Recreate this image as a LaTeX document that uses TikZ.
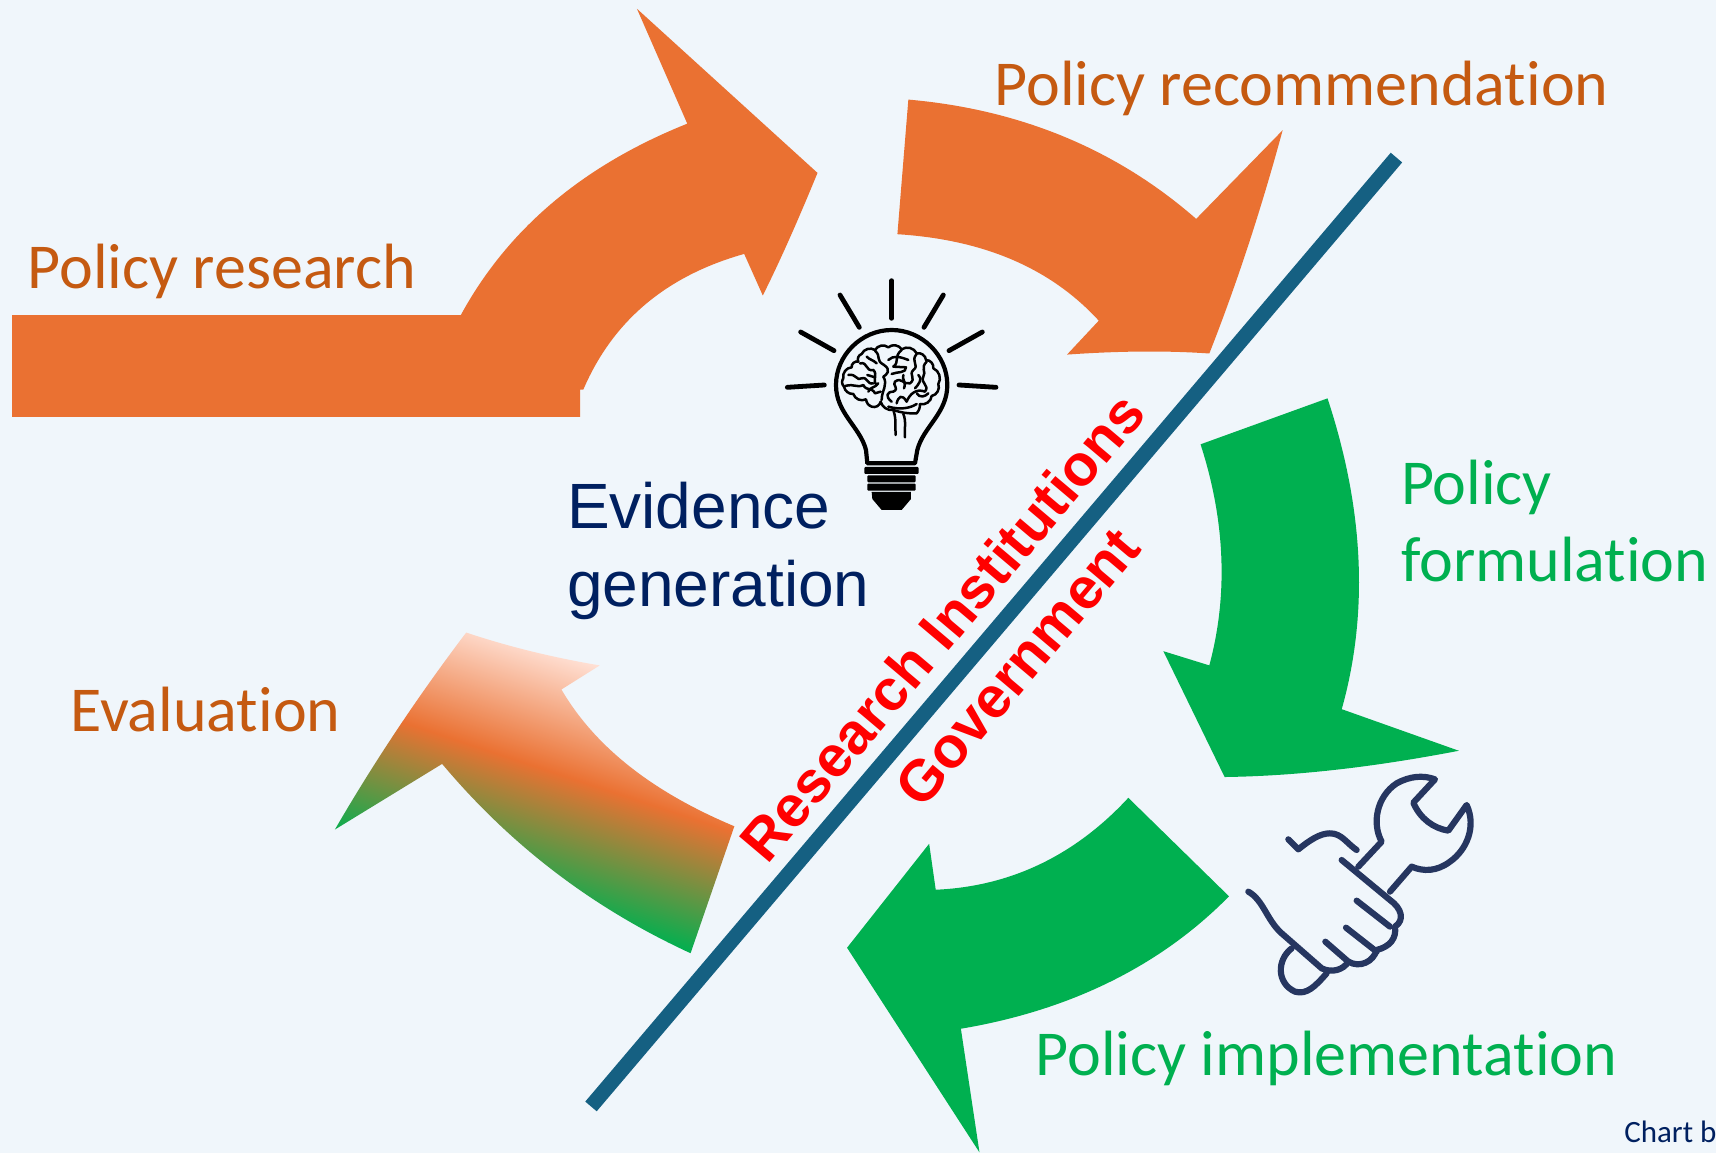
\documentclass[tikz,border=0pt]{standalone}
\usepackage{fontspec}
\setmainfont{Liberation Sans}
\newfontfamily\calfont[Ligatures=NoCommon]{Carlito}
\definecolor{bgc}{RGB}{240,246,251}
\definecolor{orangeA}{RGB}{234,113,50}
\definecolor{greenA}{RGB}{0,176,80}
\definecolor{orangeT}{RGB}{197,90,17}
\definecolor{navyT}{RGB}{0,32,96}
\definecolor{lineB}{RGB}{21,96,130}
\definecolor{pinkA}{RGB}{255,224,212}
\definecolor{toolC}{RGB}{38,54,96}
\pgfdeclareverticalshading{evalgrad}{100bp}{color(0bp)=(greenA); color(37.75bp)=(greenA); color(50.7bp)=(orangeA); color(62.25bp)=(pinkA); color(100bp)=(pinkA)}
\tikzset{
  lab/.style={inner sep=0pt,anchor=base west,font=\calfont\fontsize{64}{68}\selectfont},
  evi/.style={inner sep=0pt,anchor=base west,text=navyT,font=\fontsize{64}{70}\selectfont},
  redt/.style={inner sep=0pt,rotate=49.8,text=red,font=\bfseries\fontsize{58}{62}\selectfont},
  rayline/.style={line width=4.8pt,line cap=round,black},
  tool/.style={line width=6.2pt,line cap=round,line join=round,toolC},
  brainl/.style={line width=2.5pt,line cap=round,line join=round,black},
}
\begin{document}
\begin{tikzpicture}[x=1.09439pt,y=-1.09439pt]
\useasboundingbox (0,0) rectangle (1568,1053.55);
\fill[bgc] (0,0) rectangle (1568,1053.55);
% arrows
\fill[orangeA] (11,288) -- (421,288) .. controls (464,209) and (533,151) .. (628,113) -- (582,8) -- (747,158) .. controls (733,192) and (716,232) .. (697,270) -- (680,232) .. controls (609,252) and (560,293) .. (533,356) -- (530,356) -- (530,381) -- (11,381) -- cycle;
\fill[orangeA] (830,91) .. controls (933,100) and (1021,137) .. (1093,200) -- (1172,119) .. controls (1153,189) and (1131,257) .. (1105,323) .. controls (1062,320) and (1018,321) .. (975,324) -- (1004,293) .. controls (960,245) and (899,219) .. (820,214) -- cycle;
\fill[greenA] (1097,406) -- (1213,364) .. controls (1246,464) and (1251,559) .. (1226,648) -- (1333,686) .. controls (1260,700) and (1189,709) .. (1119,710) -- (1063,595) -- (1105,608) .. controls (1122,545) and (1120,477) .. (1097,406) -- cycle;
\fill[greenA] (1031,729) -- (1123,819) .. controls (1061,882) and (979,923) .. (878,940) -- (895,1053) -- (774,866) -- (849,771) -- (855,813) .. controls (923,810) and (982,782) .. (1031,729) -- cycle;
\begin{scope}
\clip (671,755) -- (631,871) .. controls (542,830) and (467,773) .. (404,698) -- (306,758) .. controls (342,696) and (382,636) .. (426,578) .. controls (465,591) and (506,601) .. (548,608) -- (513,630) .. controls (544,683) and (597,724) .. (671,755) -- cycle;
\shade[shading=evalgrad,shading angle=-18.4] (258.6,477.6) rectangle (715.4,934.4);
\end{scope}
% divider
\coordinate (dA) at (540,1011);
\coordinate (dB) at (1276,144);
\draw[lineB,line width=15pt] (dA) -- (dB);
% labels
\node[lab,text=orangeT] (t1) at (25,264) {Policy research};
\node[lab,text=orangeT] (t2) at (908.5,96) {Policy recommendation};
\node[lab,text=greenA] (t3) at (1280,461) {Policy};
\node[lab,text=greenA] (t4) at (1280,531) {formulation};
\node[lab,text=greenA] (t5) at (946,983) {Policy implementation};
\node[lab,text=orangeT] (t6) at (64,668) {Evaluation};
\node[evi] (t7) at (518,483) {Evidence};
\node[evi] (t8) at (518,554) {generation};
\node[inner sep=0pt,anchor=base west,text=navyT,font=\calfont\fontsize{31}{34}\selectfont] (t9) at (1484,1044) {Chart b};
\node[redt] (t10) at (861,572.5) {Research Institutions};
\node[redt] (t11) at (930,609.5) {Government};
% bulb (coordinates of a 3x grid)
\begin{scope}[x=0.3333pt,y=-0.3333pt,shift={(760pt,-260pt)}]
\draw[rayline] (395,62) -- (395,175);
\draw[rayline] (240,105) -- (298,202);
\draw[rayline] (550,105) -- (492,202);
\draw[rayline] (122,216) -- (222,272);
\draw[rayline] (667,216) -- (567,272);
\draw[rayline] (82,382) -- (193,375);
\draw[rayline] (708,382) -- (597,375);
\draw[black,line width=4.2pt,line join=round] (322,610) -- (318,570) .. controls (300,500) and (228,460) .. (228,375) .. controls (228,285) and (305,210) .. (395,210) .. controls (485,210) and (562,285) .. (562,375) .. controls (562,460) and (490,500) .. (472,570) -- (465,610) -- cycle;
\fill[black,rounded corners=1pt] (313,621) rectangle (476,642);
\fill[black,rounded corners=1pt] (322,646) rectangle (467,667);
\fill[black,rounded corners=1pt] (322,671) rectangle (467,692);
\fill[black] (335,696) -- (453,696) -- (453,717) -- (425,750) -- (365,750) -- (337,717) -- cycle;
% brain
\draw[brainl] (250,355) to[bend left=50] (275,322) to[bend left=60] (295,305) to[bend left=50] (305,282) to[bend left=50] (345,270) to[bend left=50] (385,262) to[bend left=50] (425,268) to[bend left=50] (470,280) to[bend left=50] (498,300) to[bend left=50] (520,325) to[bend left=50] (535,372) to[bend left=50] (515,408) to[bend left=50] (480,432) to[bend left=20] (470,460) to[bend left=10] (400,450) to[bend left=40] (362,425) to[bend left=50] (335,440) to[bend left=30] (318,418) to[bend left=50] (280,402) to[bend left=40] (252,380) to[bend left=40] (250,355);
\draw[brainl] (400,450) .. controls (410,480) and (405,500) .. (407,525);
\draw[brainl] (430,462) .. controls (440,485) and (432,510) .. (435,532);
\draw[brainl] (300,310) .. controls (325,305) and (315,335) .. (340,330) .. controls (355,345) and (335,360) .. (350,375);
\draw[brainl] (345,272) .. controls (365,290) and (345,300) .. (372,315) .. controls (395,330) and (380,345) .. (370,350) .. controls (385,375) and (365,390) .. (365,420);
\draw[brainl] (425,270) .. controls (400,290) and (420,305) .. (400,320) -- (438,322) .. controls (440,340) and (410,335) .. (395,342);
\draw[brainl] (470,282) .. controls (450,305) and (480,315) .. (460,330) .. controls (445,345) and (470,355) .. (450,370) .. controls (430,375) and (425,350) .. (405,365) .. controls (395,375) and (420,385) .. (400,395) .. controls (380,395) and (375,410) .. (395,425);
\draw[brainl] (500,305) .. controls (480,325) and (500,335) .. (490,350) .. controls (480,370) and (510,375) .. (495,395) .. controls (470,385) and (450,400) .. (440,425) .. controls (425,400) and (415,410) .. (410,430);
\draw[brainl] (265,345) .. controls (290,340) and (290,365) .. (305,355) .. controls (325,350) and (320,375) .. (340,370);
\draw[brainl] (255,378) .. controls (285,370) and (290,385) .. (310,375) .. controls (320,395) and (335,380) .. (345,400) -- (362,395);
\draw[brainl] (385,440) .. controls (420,450) and (450,445) .. (470,432);
\draw[brainl] (322,345) -- (345,352);
\draw[brainl] (385,300) .. controls (400,285) and (420,290) .. (445,300);
\draw[brainl] (470,400) .. controls (480,415) and (495,410) .. (505,400);
\draw[brainl] (320,290) .. controls (330,300) and (340,300) .. (350,310);
\draw[brainl] (355,370) .. controls (345,385) and (330,380) .. (325,395);
\draw[brainl] (430,345) .. controls (425,360) and (440,365) .. (432,385);
\draw[brainl] (475,345) .. controls (490,355) and (475,375) .. (465,385);
\end{scope}
% handshake with wrench
\begin{scope}[x=0.3333pt,y=-0.3333pt,shift={(1220pt,-750pt)}]
\draw[tool] (415,350) -- (485,275) .. controls (455,220) and (470,140) .. (530,100) .. controls (570,78) and (610,75) .. (645,88) -- (580,158) .. controls (600,205) and (640,235) .. (685,242) -- (740,165) .. controls (770,230) and (740,300) .. (690,335) .. controls (650,365) and (610,365) .. (575,350) -- (510,425);
\draw[tool] (365,330) -- (510,450) .. controls (545,475) and (555,510) .. (525,530) .. controls (530,565) and (510,590) .. (470,600) .. controls (460,635) and (420,655) .. (385,635) .. controls (370,660) and (335,670) .. (305,655) -- (185,550) .. controls (140,510) and (130,450) .. (85,425);
\draw[tool] (410,452) -- (510,530);
\draw[tool] (378,533) -- (470,605);
\draw[tool] (316,575) -- (385,635);
\draw[tool] (215,595) .. controls (170,630) and (170,700) .. (225,725) .. controls (260,735) and (285,710) .. (320,670);
\draw[tool] (205,268) -- (235,298) .. controls (270,270) and (300,250) .. (330,250) .. controls (365,250) and (380,280) .. (410,300);
\end{scope}
\end{tikzpicture}
\end{document}
